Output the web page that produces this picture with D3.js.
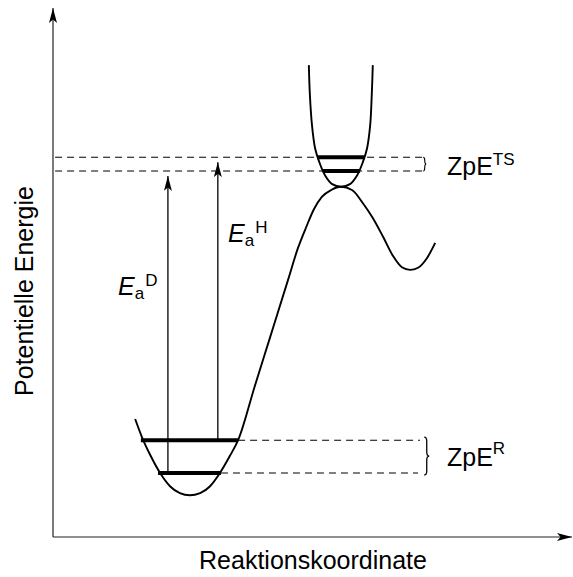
<!DOCTYPE html>
<html>
<head>
<meta charset="utf-8">
<script src="https://cdn.jsdelivr.net/npm/d3@7"></script>
<style>
  body { margin: 0; background: #fff; }
  svg { display: block; font-family: "Liberation Sans", Arial, sans-serif; }
</style>
</head>
<body>
<div id="chart"></div>
<script>
// potential energy surface (reaction coordinate / energy, arbitrary units 0..10)
const pathRc = [1.58, 1.71, 1.87, 2.06, 2.25, 2.44, 2.63, 2.83, 3.02, 3.21, 3.40, 3.56, 3.88, 4.17, 4.52,
                4.71, 4.87, 5.02, 5.17, 5.35, 5.54, 5.75, 5.96, 6.15, 6.35, 6.54, 6.71, 6.87, 7.02, 7.19, 7.35];
const pathE  = [2.23, 1.89, 1.55, 1.21, 0.96, 0.83, 0.79, 0.83, 0.96, 1.21, 1.53, 1.83, 2.85, 3.76, 4.86,
                5.46, 5.86, 6.20, 6.43, 6.56, 6.62, 6.56, 6.31, 6.03, 5.67, 5.31, 5.10, 5.05, 5.09, 5.27, 5.56];

// transition state well (orthogonal mode)
const tsRc = [4.92, 4.94, 4.98, 5.04, 5.12, 5.23, 5.37, 5.54, 5.71, 5.85, 5.96, 6.04, 6.10, 6.13, 6.15];
const tsE  = [8.92, 8.36, 7.79, 7.35, 7.09, 6.84, 6.67, 6.62, 6.67, 6.84, 7.09, 7.35, 7.79, 8.36, 8.92];

// zero point levels
const levelNames = ["R-H", "R-D", "TS-H", "TS-D"];
const levelE   = [1.83, 1.21, 7.18, 6.92];
const levelRc0 = [1.69, 2.02, 5.08, 5.19];
const levelRc1 = [3.56, 3.23, 6.00, 5.90];

// activation energies: [from level, to level]
const barrierNames = ["D", "H"];
const barrierRc = [2.21, 3.17];
const barrierFrom = ["R-D", "R-H"];
const barrierTo = ["TS-D", "TS-H"];

const axisTitles = ["Reaktionskoordinate", "Potentielle Energie"];

const width = 573, height = 577;

const svg = d3.select("#chart")
  .append("svg")
  .attr("width", width)
  .attr("height", height);

const x = d3.scaleLinear().domain([0, 10]).range([53, 573]);
const y = d3.scaleLinear().domain([0, 10]).range([537, 8]);

const lvl = name => levelE[levelNames.indexOf(name)];

// arrow head
svg.append("defs")
  .append("marker")
  .attr("id", "arrow")
  .attr("viewBox", "0 0 15 8")
  .attr("refX", 15)
  .attr("refY", 4)
  .attr("markerWidth", 15)
  .attr("markerHeight", 8)
  .attr("markerUnits", "userSpaceOnUse")
  .attr("orient", "auto")
  .append("path")
  .attr("d", "M0,0 L15,4 L0,8 L3.5,4 Z")
  .attr("fill", "#000");

// axes (no ticks, just arrows)
const xAxis = svg.append("g")
  .attr("transform", "translate(0," + y(0) + ")")
  .call(d3.axisBottom(x).tickValues([]).tickSizeOuter(0));
xAxis.select(".domain")
  .attr("d", "M" + x(0) + ",0H" + (x(10) - 1))
  .attr("stroke", "#222")
  .attr("stroke-width", 1.2)
  .attr("marker-end", "url(#arrow)");

const yAxis = svg.append("g")
  .attr("transform", "translate(" + x(0) + ",0)")
  .call(d3.axisLeft(y).tickValues([]).tickSizeOuter(0));
yAxis.select(".domain")
  .attr("d", "M0," + y(0) + "V" + y(10))
  .attr("stroke", "#222")
  .attr("stroke-width", 1.2)
  .attr("marker-end", "url(#arrow)");

svg.append("text")
  .attr("x", (x(0) + x(10)) / 2)
  .attr("y", 569)
  .attr("text-anchor", "middle")
  .attr("font-size", 25)
  .text(axisTitles[0]);

svg.append("text")
  .attr("transform", "translate(33," + y(4.65) + ") rotate(-90)")
  .attr("text-anchor", "middle")
  .attr("font-size", 25)
  .text(axisTitles[1]);

// dashed guides
const dash = svg.append("g")
  .attr("fill", "none")
  .attr("stroke", "#000")
  .attr("stroke-width", 1.1)
  .attr("stroke-dasharray", "7,5");

["TS-H", "TS-D"].forEach(function (n) {
  dash.append("line")
    .attr("x1", x(0.04)).attr("x2", x(7.12))
    .attr("y1", y(lvl(n))).attr("y2", y(lvl(n)));
});
["R-H", "R-D"].forEach(function (n, i) {
  const k = levelNames.indexOf(n);
  dash.append("line")
    .attr("x1", x(levelRc1[k])).attr("x2", x(7.02) + (i ? 0 : 2))
    .attr("y1", y(levelE[k])).attr("y2", y(levelE[k]));
});

// braces
function brace(bx, y0, y1, d) {
  const m = (y0 + y1) / 2, r = Math.min(4, (y1 - y0) / 4);
  const p = d3.path();
  p.moveTo(bx, y0);
  p.quadraticCurveTo(bx + d, y0, bx + d, y0 + r);
  p.lineTo(bx + d, m - r);
  p.quadraticCurveTo(bx + d, m, bx + 2 * d, m);
  p.quadraticCurveTo(bx + d, m, bx + d, m + r);
  p.lineTo(bx + d, y1 - r);
  p.quadraticCurveTo(bx + d, y1, bx, y1);
  return p.toString();
}
svg.append("path")
  .attr("d", brace(x(7.12), y(lvl("TS-H")), y(lvl("TS-D")), 1.5))
  .attr("fill", "none").attr("stroke", "#000").attr("stroke-width", 1.1);
svg.append("path")
  .attr("d", brace(x(7.12) + 1, y(lvl("R-H")) - 3, y(lvl("R-D")) + 2, 2.5))
  .attr("fill", "none").attr("stroke", "#000").attr("stroke-width", 1.3);

// curves
const line = d3.line()
  .x(d => x(d[0]))
  .y(d => y(d[1]));

svg.append("path")
  .attr("d", line.curve(d3.curveMonotoneX)(d3.zip(pathRc, pathE)))
  .attr("fill", "none")
  .attr("stroke", "#000")
  .attr("stroke-width", 1.9);

svg.append("path")
  .attr("d", line.curve(d3.curveCatmullRom.alpha(0.5))(d3.zip(tsRc, tsE)))
  .attr("fill", "none")
  .attr("stroke", "#000")
  .attr("stroke-width", 1.9);

// zero point levels
svg.append("g")
  .selectAll("line")
  .data(levelNames)
  .enter()
  .append("line")
  .attr("x1", (d, i) => x(levelRc0[i]))
  .attr("x2", (d, i) => x(levelRc1[i]))
  .attr("y1", (d, i) => y(levelE[i]))
  .attr("y2", (d, i) => y(levelE[i]))
  .attr("stroke", "#000")
  .attr("stroke-width", 4);

// activation arrows
svg.append("g")
  .selectAll("line")
  .data(barrierNames)
  .enter()
  .append("line")
  .attr("x1", (d, i) => x(barrierRc[i]))
  .attr("x2", (d, i) => x(barrierRc[i]))
  .attr("y1", (d, i) => y(lvl(barrierFrom[i])))
  .attr("y2", (d, i) => y(lvl(barrierTo[i])) + 5)
  .attr("stroke", "#000")
  .attr("stroke-width", 1.3)
  .attr("marker-end", "url(#arrow)");

const eaPos = [[118, 295], [228, 242]];
barrierNames.forEach(function (n, i) {
  const t = svg.append("text")
    .attr("x", eaPos[i][0])
    .attr("y", eaPos[i][1])
    .attr("font-size", 25);
  t.append("tspan").attr("font-style", "italic").text("E");
  t.append("tspan").attr("font-size", 17).attr("dy", 4).text("a");
  t.append("tspan").attr("font-size", 17).attr("dy", -13).attr("dx", 1).text(n);
});

// ZpE labels
const zpe = [["TS", (y(lvl("TS-H")) + y(lvl("TS-D"))) / 2 + 11, -10],
             ["R", (y(lvl("R-H")) + y(lvl("R-D"))) / 2 + 9, -12]];
zpe.forEach(function (z) {
  const t = svg.append("text")
    .attr("x", 447)
    .attr("y", z[1])
    .attr("font-size", 25);
  t.append("tspan").text("ZpE");
  t.append("tspan").attr("font-size", 17).attr("dy", z[2]).text(z[0]);
});
</script>
</body>
</html>
